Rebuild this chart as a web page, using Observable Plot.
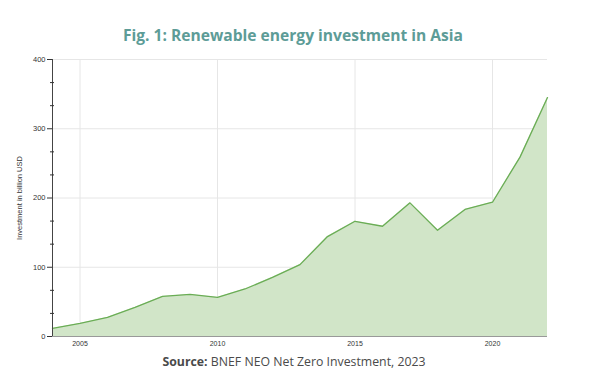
<!DOCTYPE html>
<html>
<head>
<meta charset="utf-8">
<script src="https://cdn.jsdelivr.net/npm/d3@7"></script>
<script src="https://cdn.jsdelivr.net/npm/@observablehq/plot@0.6"></script>
<style>
  html, body { margin: 0; padding: 0; background: #fff; }
  #wrap { position: relative; width: 600px; height: 391px; }
  #title { position: absolute; top: 23px; left: 0; width: 586px; text-align: center;
    font-family: "Open Sans", sans-serif; font-weight: 700; font-size: 15.6px; color: #5d9c97; line-height: 24px; }
  #chart { position: absolute; top: 50px; left: 0; }
  #caption { position: absolute; top: 352px; left: 0; width: 588px; text-align: center;
    font-family: "Open Sans", sans-serif; font-size: 12.3px; color: #4a4a4a; line-height: 20px; }
  #caption b { font-weight: 700; }
</style>
</head>
<body>
<div id="wrap">
  <div id="title">Fig. 1: Renewable energy investment in Asia</div>
  <div id="chart"></div>
  <div id="caption"><b>Source:</b> BNEF NEO Net Zero Investment, 2023</div>
</div>
<script>
const years = [2004, 2005, 2006, 2007, 2008, 2009, 2010, 2011, 2012, 2013, 2014, 2015, 2016, 2017, 2018, 2019, 2020, 2021, 2022];
const investment = [11.6, 18.8, 27.5, 42, 57.9, 60.8, 56.4, 68.6, 85.4, 103.8, 144.3, 166.4, 159.2, 193, 153.4, 183.4, 193.9, 259, 345];
const xTicks = [2005, 2010, 2015, 2020];
const yTicks = [0, 100, 200, 300, 400];
const yMinorTicks = d3.range(0, 400, 100 / 3).filter((v) => Math.abs(v % 100) > 1 && Math.abs(v % 100 - 100) > 1);
const yLabel = "Investment in billion USD";

const data = years.map((year, i) => ({ year, value: investment[i] }));

const chart = Plot.plot({
  width: 600,
  height: 300,
  marginTop: 9,
  marginBottom: 14,
  marginLeft: 52,
  marginRight: 53,
  style: { fontFamily: "Liberation Sans, Arial, sans-serif", fontSize: "7px", color: "#333", background: "white" },
  x: { domain: [2004, 2022], ticks: xTicks, tickFormat: "d" },
  y: { domain: [0, 400], ticks: yTicks },
  marks: [
    Plot.ruleY(yTicks.slice(1), { stroke: "#e6e6e6", strokeWidth: 1 }),
    Plot.ruleX(xTicks, { stroke: "#e6e6e6", strokeWidth: 1 }),
    Plot.areaY(data, { x: "year", y: "value", fill: "#d1e5c8" }),
    Plot.lineY(data, { x: "year", y: "value", stroke: "#6aad55", strokeWidth: 1.3 }),
    Plot.ruleY([0], { stroke: "#999", strokeWidth: 1.2 }),
    Plot.ruleX([2004], { stroke: "#444", strokeWidth: 1 }),
    Plot.axisX({ ticks: xTicks, tickFormat: "d", tickSize: 0, tickPadding: 5, label: null, fontSize: 7 }),
    Plot.axisY({ ticks: yTicks, tickSize: 5, tickPadding: 2, label: yLabel, labelAnchor: "center", labelArrow: "none", labelOffset: 36, fontSize: 7.5 }),
    Plot.axisY({ ticks: yMinorTicks, tickSize: 4, dx: 2, tickFormat: () => "", label: null })
  ]
});
document.getElementById("chart").appendChild(chart);
</script>
</body>
</html>
